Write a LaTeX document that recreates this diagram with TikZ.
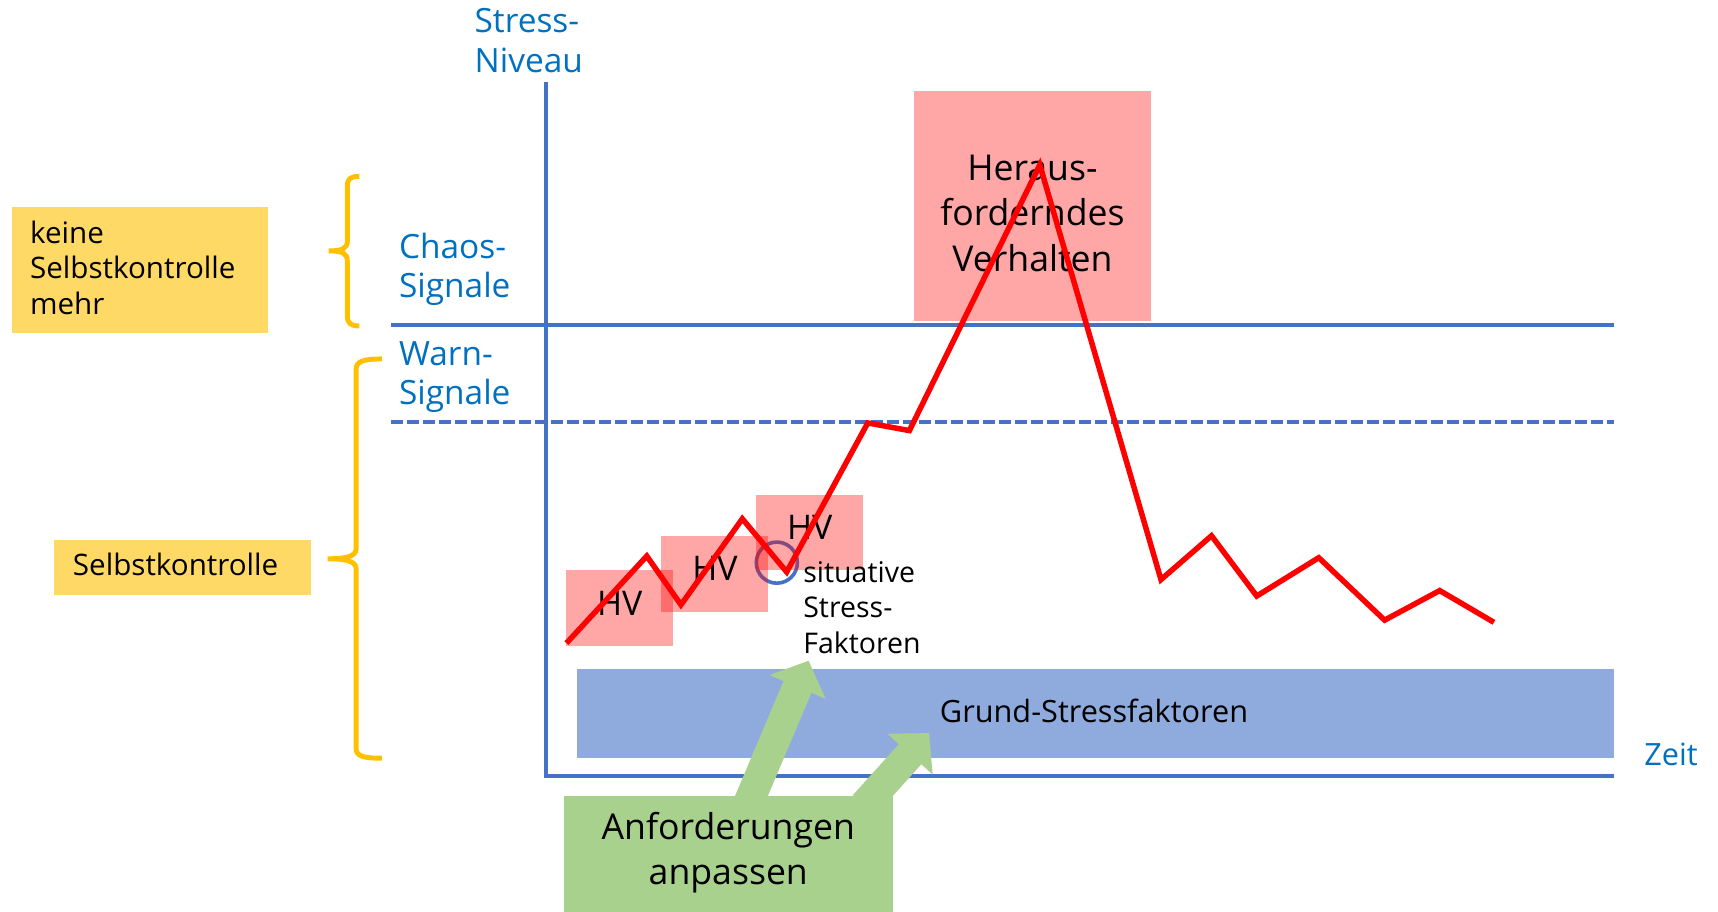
\documentclass[tikz,border=0pt]{standalone}
\usepackage{fontspec}
\setmainfont{Open Sans}
\usetikzlibrary{arrows.meta,calc}

\definecolor{axisblue}{HTML}{4472C4}
\definecolor{labelblue}{HTML}{0070C0}
\definecolor{braceyellow}{HTML}{FFC000}
\definecolor{noteyellow}{HTML}{FFD966}
\definecolor{basefill}{HTML}{8FAADC}
\definecolor{actiongreen}{HTML}{A9D18E}

\newcommand{\fsz}[2]{\fontsize{#1pt}{#2pt}\selectfont}

\tikzset{
  axis/.style={axisblue, line width=3.5pt},
  axislabel/.style={labelblue, align=left, inner sep=0, font=\fsz{30.5}{36}},
  notebox/.style={fill=noteyellow, draw=none, inner sep=0, anchor=north west},
  notetext/.style={align=left, inner sep=0, font=\fsz{27}{32.8}},
  bracket/.style={braceyellow, line width=4.5pt, line cap=butt},
  pinkbox/.style={fill=red, fill opacity=0.35, draw=none, inner sep=0, anchor=north west},
  hvtext/.style={inner sep=0, font=\fsz{31}{36}},
  bigtext/.style={inner sep=0, align=center, font=\fsz{32.5}{41.5}},
  sittext/.style={inner sep=0, align=left, font=\fsz{26}{32.6}},
  stressline/.style={red, line width=5pt, line join=miter},
  greenarrow/.style={actiongreen, line width=27.6pt, -{Triangle[length=26pt,width=54pt]}},
}

\begin{document}
\begin{tikzpicture}[x=1pt,y=-1pt]
\useasboundingbox (0,0) rectangle (1568,832);

% self-control notes on the left
\node[notebox, minimum width=234.2pt, minimum height=115.4pt] (kbox) at (10.5,188.6) {};
\node[notetext, anchor=west] (ktext) at (27.3,244.5) {keine\\Selbstkontrolle\\mehr};
\node[notebox, minimum width=234.6pt, minimum height=50.2pt] (sbox) at (49.3,492.8) {};
\node[notetext, anchor=base west] (stext) at (66.4,525.7) {Selbstkontrolle};

% curly brackets
\draw[bracket] (328,161) .. controls (320,161) and (317,163) .. (317,170)
  -- (317,220) .. controls (317,227) and (312,229) .. (300,229)
  .. controls (312,229) and (317,231) .. (317,238)
  -- (317,288) .. controls (317,295) and (320,297.5) .. (328,297.5);
\draw[bracket] (348.6,327.6) .. controls (331,327.6) and (325,330) .. (325,337)
  -- (325,501) .. controls (325,508) and (315,510) .. (299,510)
  .. controls (315,510) and (325,512) .. (325,519)
  -- (325,683) .. controls (325,690) and (331,692) .. (348.6,692);

% base stress band
\node[fill=basefill, draw=none, inner sep=0, anchor=north west,
      minimum width=946.1pt, minimum height=80.9pt] (base) at (526.6,610.6) {};
\node[inner sep=0, anchor=base, font=\fsz{28}{32}] (basetext) at (998.5,659.5) {Grund-Stressfaktoren};

% axes and threshold lines
\coordinate (ytop) at (498,75);
\coordinate (orig) at (498,708);
\coordinate (xend) at (1473,708);
\draw[axis] (ytop) -- (orig) -- (xend);
\coordinate (chaosL) at (357,297);
\coordinate (chaosR) at (1473,297);
\draw[axis] (chaosL) -- (chaosR);
\coordinate (warnL) at (357,385);
\coordinate (warnR) at (1473,385);
\draw[axis, dash pattern=on 11pt off 3.6pt] (warnL) -- (warnR);

% axis and zone labels
\node[axislabel, anchor=west] (ylabel) at (433,37.2) {Stress-\\Niveau};
\node[axislabel, anchor=base west, font=\fsz{28}{32}] (xlabel) at (1500.5,698.8) {Zeit};
\node[axislabel, anchor=west] (chaoslabel) at (364,245.8) {Chaos-\\Signale};
\node[axislabel, anchor=west] (warnlabel) at (364,344.2) {Warn-\\Signale};

% marker of the situative stress factor
\node[circle, draw=axisblue, line width=3.3pt, minimum size=37.5pt, inner sep=0] (sitmark) at (709,513.5) {};

% episodes of challenging behaviour
\node[pinkbox, minimum width=97pt, minimum height=69pt] (hv1) at (516.6,520) {};
\node[pinkbox, minimum width=98pt, minimum height=69pt] (hv2) at (603,489) {};
\node[pinkbox, minimum width=97.6pt, minimum height=68pt] (hv3) at (690,452) {};
\node[pinkbox, minimum width=216.5pt, minimum height=210pt] (hb) at (834,83) {};

\node[hvtext, anchor=base] (hv1t) at (565.6,561.3) {HV};
\node[hvtext, anchor=base] (hv2t) at (652.6,530) {HV};
\node[hvtext, anchor=base] (hv3t) at (739,492.2) {HV};
\node[bigtext] (hbt) at (942.3,194.4) {Heraus-\\forderndes\\Verhalten};
\node[sittext, anchor=west] (sitt) at (733,554.5) {situative\\Stress-\\Faktoren};

% stress level over time
\draw[stressline] (517,587) -- (590.3,507.5) -- (621.5,552) -- (677.5,473.5)
  -- (718,522) -- (792,386) -- (830,393) -- (949,150.5) -- (1059.6,529)
  -- (1105.7,489) -- (1147,544) -- (1203.6,509) -- (1263.7,566)
  -- (1314,539) -- (1363.5,568);

% adjusting demands
\coordinate (a1tail) at (682.2,735);
\coordinate (a1tip) at (738,603);
\coordinate (a2tail) at (788.6,735);
\coordinate (a2tip) at (848,669);
\draw[greenarrow] (a1tail) -- (a1tip);
\draw[greenarrow] (a2tail) -- (a2tip);
\node[fill=actiongreen, draw=none, inner sep=0, anchor=north west,
      minimum width=300pt, minimum height=106pt] (act) at (514.7,726) {};
\node[bigtext] (actt) at (664.7,778.4) {Anforderungen\\anpassen};
\end{tikzpicture}
\end{document}
